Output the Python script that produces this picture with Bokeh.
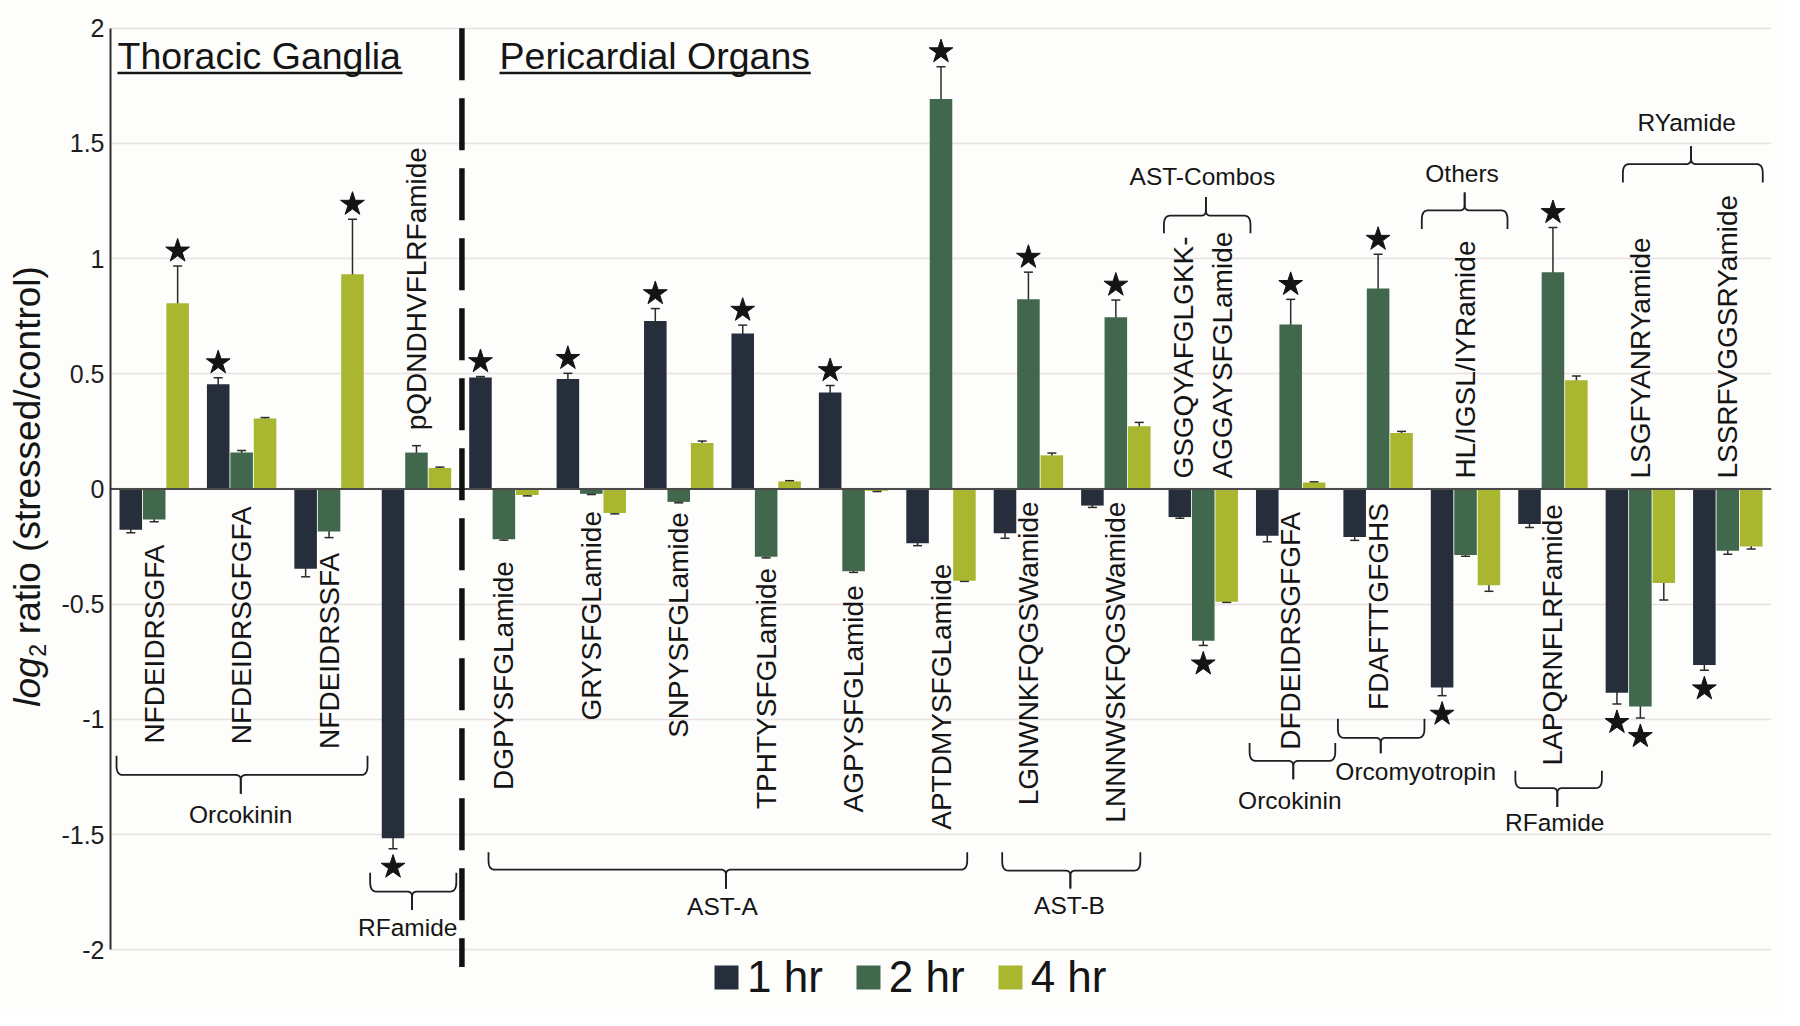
import numpy as np
from bokeh.plotting import figure
from bokeh.models import (Range1d, Legend, LegendItem, ColumnDataSource, BoxAnnotation,
                          Whisker, TeeHead, FixedTicker)
from bokeh.core.properties import value
from bokeh.embed import file_html
from bokeh.resources import INLINE

# ---------------- data ----------------
peptides = ["NFDEIDRSGFA", "NFDEIDRSGFGFA", "NFDEIDRSSFA", "pQDNDHVFLRFamide",
            "DGPYSFGLamide", "GRYSFGLamide", "SNPYSFGLamide", "TPHTYSFGLamide",
            "AGPYSFGLamide", "APTDMYSFGLamide", "LGNWNKFQGSWamide", "LNNNWSKFQGSWamide",
            "GSGQYAFGLGKK-\nAGGAYSFGLamide", "DFDEIDRSGFGFA", "FDAFTTGFGHS",
            "HL/IGSL/IYRamide", "LAPQRNFLRFamide", "LSGFYANRYamide", "LSSRFVGGSRYamide"]

hr1 = [-0.177, 0.455, -0.346, -1.516, 0.484, 0.477, 0.729, 0.675, 0.419, -0.236,
       -0.192, -0.072, -0.122, -0.203, -0.208, -0.862, -0.152, -0.884, -0.764]
hr1_err = [0.013, 0.028, 0.035, 0.045, 0.004, 0.025, 0.054, 0.036, 0.030, 0.010,
           0.022, 0.008, 0.005, 0.026, 0.015, 0.035, 0.015, 0.049, 0.023]
hr2 = [-0.132, 0.158, -0.185, 0.158, -0.218, -0.021, -0.056, -0.294, -0.357, 1.693,
       0.823, 0.745, -0.659, 0.714, 0.870, -0.287, 0.941, -0.944, -0.268]
hr2_err = [0.010, 0.009, 0.026, 0.030, 0.004, 0.003, 0.004, 0.005, 0.005, 0.140,
           0.118, 0.075, 0.020, 0.109, 0.149, 0.005, 0.194, 0.050, 0.015]
hr4 = [0.806, 0.306, 0.932, 0.091, -0.026, -0.104, 0.200, 0.033, -0.008, -0.398,
       0.146, 0.272, -0.489, 0.028, 0.243, -0.418, 0.472, -0.408, -0.250]
hr4_err = [0.162, 0.004, 0.239, 0.004, 0.004, 0.004, 0.008, 0.003, 0.003, 0.003,
           0.010, 0.017, 0.003, 0.003, 0.007, 0.026, 0.018, 0.074, 0.010]
sig1 = [0, 1, 0, 1, 1, 1, 1, 1, 1, 0, 0, 0, 0, 0, 0, 1, 0, 1, 1]
sig2 = [0, 0, 0, 0, 0, 0, 0, 0, 0, 1, 1, 1, 1, 1, 1, 0, 1, 1, 0]
sig4 = [1, 0, 1, 0, 0, 0, 0, 0, 0, 0, 0, 0, 0, 0, 0, 0, 0, 0, 0]

series_names = ["1 hr", "2 hr", "4 hr"]
series_colors = ["#262d3b", "#41684c", "#a9b62f"]

y_ticks = [-2.0, -1.5, -1.0, -0.5, 0.0, 0.5, 1.0, 1.5, 2.0]
y_tick_labels = ["-2", "-1.5", "-1", "-0.5", "0", "0.5", "1", "1.5", "2"]

section_titles = ["Thoracic Ganglia", "Pericardial Organs"]
y_title_parts = ["log", "2", "ratio (stressed/control)"]

# family brackets: name, x0, x1, x_tip, y_end, y_mid, y_tip, label_x, label_y
families = [
    ("Orcokinin",     0.069, 2.94, 1.49, -1.158, -1.241, -1.323, 1.49, -1.414),
    ("RFamide",       2.97, 3.956, 3.45, -1.666, -1.747, -1.827, 3.40, -1.902),
    ("AST-A",         4.324, 9.80, 7.04, -1.577, -1.652, -1.735, 7.00, -1.810),
    ("AST-B",         10.20, 11.78, 10.98, -1.576, -1.656, -1.734, 10.97, -1.809),
    ("AST-Combos",    12.05, 13.04, 12.53, 1.110, 1.186, 1.267, 12.49, 1.357),
    ("Orcokinin",     13.03, 14.01, 13.53, -1.102, -1.180, -1.260, 13.49, -1.350),
    ("Orcomyotropin", 14.04, 15.03, 14.53, -0.997, -1.080, -1.147, 14.93, -1.228),
    ("Others",        15.00, 15.98, 15.49, 1.128, 1.209, 1.287, 15.46, 1.371),
    ("RFamide",       16.07, 17.06, 16.55, -1.223, -1.298, -1.380, 16.52, -1.448),
    ("RYamide",       17.30, 18.90, 18.08, 1.330, 1.410, 1.487, 18.03, 1.591),
]

# layout constants (data units)
label_bottom = [-1.105, -1.108, -1.128, 0.255, -1.306, -1.005, -1.080, -1.389, -1.404, -1.479,
                -1.373, -1.448, 0.045, -1.132, -0.959, 0.045, -1.200, 0.045, 0.045]
BAR_W = 0.258
DODGE = 0.268
FONT = "Liberation Sans"
BG = "#fdfdfb"

n = len(peptides)
centers = np.arange(n) + 0.5
X0 = -1.2583  # frame extends left of the y axis so that the axis title can be drawn

p = figure(width=1784, height=1010, output_backend="svg", toolbar_location=None,
           x_range=Range1d(X0, n), y_range=Range1d(-2.2286, 2.12),
           min_border_left=0, min_border_right=13, min_border_top=0, min_border_bottom=8,
           background_fill_color=BG, border_fill_color=BG)
p.outline_line_color = None
p.xaxis.visible = False
p.xgrid.visible = False
p.ygrid.ticker = FixedTicker(ticks=y_ticks)
p.ygrid.grid_line_color = "#e9e1e1"
p.ygrid.grid_line_width = 1.5

ax = p.yaxis[0]
ax.fixed_location = 0
ax.ticker = FixedTicker(ticks=y_ticks)
ax.major_label_overrides = {t: s for t, s in zip(y_ticks, y_tick_labels)}
ax.major_tick_in = 0
ax.major_tick_out = 0
ax.minor_tick_in = 0
ax.minor_tick_out = 0
ax.major_label_standoff = 6
ax.major_label_text_font = FONT
ax.major_label_text_font_size = "25px"
ax.major_label_text_color = "#1e1e1e"
ax.axis_line_color = "#2e2e2e"
ax.axis_line_width = 2
ax.bounds = (-2, 2)

# hide grid lines left of the axis
p.add_layout(BoxAnnotation(right=0, fill_color=BG, fill_alpha=1, line_color=None,
                           level="underlay"))

# bars
vals = [hr1, hr2, hr4]
errs = [hr1_err, hr2_err, hr4_err]
sigs = [sig1, sig2, sig4]
renderers = []
for k in range(3):
    xs = centers + (k - 1) * DODGE
    v = np.array(vals[k])
    e = np.array(errs[k])
    src = ColumnDataSource(dict(x=xs, top=v, upper=v + e, lower=v - e))
    r = p.vbar(x="x", top="top", bottom=0, width=BAR_W, source=src,
               fill_color=series_colors[k], line_color=None)
    renderers.append(r)
    p.add_layout(Whisker(source=src, base="x", upper="upper", lower="lower",
                         line_color="#2a2a2a", line_width=1.5,
                         upper_head=TeeHead(size=9, line_color="#2a2a2a", line_width=1.5),
                         lower_head=TeeHead(size=9, line_color="#2a2a2a", line_width=1.5)))
    sx, sy = [], []
    for i in range(n):
        if sigs[k][i]:
            sx.append(xs[i])
            sy.append(v[i] + e[i] + 0.065 if v[i] > 0 else v[i] - e[i] - 0.08)
    p.scatter(sx, sy, marker="star", size=25, fill_color="#141414", line_color="#141414")

# zero line
p.segment(x0=[0], y0=[0], x1=[n], y1=[0], line_color="#4a4a4a", line_width=2)

# divider between tissues
p.segment(x0=[4.02], y0=[2.0], x1=[4.02], y1=[-2.075], line_color="#111111",
          line_width=5.5, line_dash="52 18")

# peptide labels (rotated)
p.text(x=centers, y=label_bottom, text=peptides, angle=np.pi / 2,
       text_align="left", text_baseline="middle", text_font=value(FONT),
       text_font_size="28px", text_line_height=1.25, text_color="#151515")

# section titles with underline
title_x = [0.08, 4.45]
title_end = [3.34, 8.01]
p.text(x=title_x, y=[1.877, 1.877], text=section_titles, text_align="left",
       text_baseline="middle", text_font=value(FONT), text_font_size="37.5px",
       text_color="#151515")
p.segment(x0=title_x, y0=[1.805, 1.805], x1=title_end, y1=[1.805, 1.805],
          line_color="#151515", line_width=2.5)

# family brackets
def brace(x0, x1, xc, y_end, y_mid, y_tip):
    s = 1.0 if y_end > y_mid else -1.0
    rx, ry = 0.07, 0.04
    rcx, rcy = 0.06, 0.022
    t = np.linspace(0, 1, 9)

    def qb(a, c, b):
        return ([(1 - u) ** 2 * a[0] + 2 * (1 - u) * u * c[0] + u ** 2 * b[0] for u in t],
                [(1 - u) ** 2 * a[1] + 2 * (1 - u) * u * c[1] + u ** 2 * b[1] for u in t])

    out = []
    for side in (-1, 1):
        xe = x0 if side < 0 else x1
        d = 1 if side < 0 else -1
        c1x, c1y = qb((xe, y_mid + s * ry), (xe, y_mid), (xe + d * rx, y_mid))
        c2x, c2y = qb((xc - d * rcx, y_mid), (xc, y_mid), (xc, y_mid - s * rcy))
        out.append(([xe] + c1x + c2x + [xc], [y_end] + c1y + c2y + [y_tip]))
    return out

bxs, bys = [], []
for f in families:
    for bx, by in brace(*f[1:7]):
        bxs.append(bx)
        bys.append(by)
p.multi_line(bxs, bys, line_color="#1e1e1e", line_width=1.8)
p.text(x=[f[7] for f in families], y=[f[8] for f in families], text=[f[0] for f in families],
       text_align="center", text_baseline="middle", text_font=value(FONT),
       text_font_size="24.5px", text_color="#151515")

# y-axis title: italic "log", subscript 2, rest (rotated, reading upward)
p.text(x=[-0.955], y=[-0.945], text=[y_title_parts[0]], angle=np.pi / 2, text_align="left",
       text_baseline="middle", text_font=value(FONT), text_font_style="italic",
       text_font_size="37px", text_color="#151515")
p.text(x=[-0.831], y=[-0.728], text=[y_title_parts[1]], angle=np.pi / 2, text_align="left",
       text_baseline="middle", text_font=value(FONT), text_font_size="23px",
       text_color="#151515")
p.text(x=[-0.955], y=[-0.630], text=[y_title_parts[2]], angle=np.pi / 2, text_align="left",
       text_baseline="middle", text_font=value(FONT), text_font_size="37px",
       text_color="#151515")

# legend
legend = Legend(items=[LegendItem(label=nm, renderers=[r]) for nm, r in zip(series_names, renderers)],
                orientation="horizontal", location=(711, 0), glyph_width=30, glyph_height=30,
                label_text_font=FONT, label_text_font_size="44px", label_text_color="#151515",
                label_standoff=6, spacing=30, padding=0, margin=0,
                border_line_color=None, background_fill_alpha=0)
p.add_layout(legend)

open("out.html", "w").write(file_html(p, INLINE))
